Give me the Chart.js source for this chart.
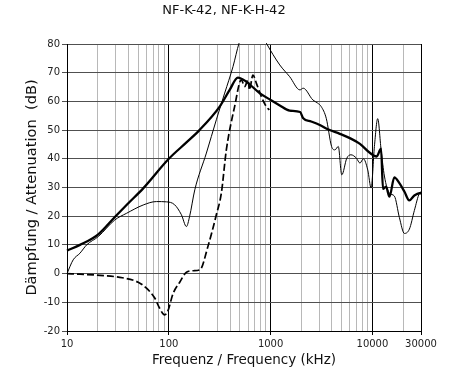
<!DOCTYPE html>
<html><head><meta charset="utf-8">
<script src="https://cdn.jsdelivr.net/npm/chart.js@4.4.1/dist/chart.umd.min.js"></script>
<style>html,body{margin:0;padding:0;background:#fff;overflow:hidden;}</style>
</head><body>
<canvas id="c" width="450" height="379"></canvas>
<script>
// ---- text ----
const chartTitle = "NF-K-42, NF-K-H-42";
const xAxisTitle = "Frequenz / Frequency (kHz)";
const yAxisTitle = "Dämpfung / Attenuation  (dB)";

// ---- ticks ----
const xGridValues = [10,20,30,40,50,60,70,80,90,100,200,300,400,500,600,700,800,900,1000,2000,3000,4000,5000,6000,7000,8000,9000,10000,20000,30000];
const xLabelValues = [10,100,1000,10000,30000];
const yTickValues = [-20,-10,0,10,20,30,40,50,60,70,80];

// ---- series: thick solid ----
const thickFreq = [10,13.4,20,30,40,56,100,150,200,316,396,477,576,780,1000,1230,1540,1950,2090,2500,3040,3600,4780,6000,7540,9480,11000,12150,12700,13600,14700,16400,18400,20600,23000,25800,28900,30000];
const thickDb   = [8,10,13.5,20,24.5,29.7,40,45.8,50,58.2,64,68.3,66.9,62.9,60.5,58.6,56.8,56.3,54.1,53,51.8,50.4,48.7,47.2,45.2,42,40.8,43.5,29.5,30.3,26.8,33.5,31.5,28.6,25.5,27.2,28,28];

// ---- series: thin solid ----
const thinFreq = [10,11.5,13.4,15.6,20.3,29.5,38.4,56,75.6,95,114,133,149,160,180,234,293,354,427,490,650,907,1230,1540,1940,2090,2600,2900,3140,3520,3970,4280,4620,5000,5600,6150,6970,7540,8150,9000,9710,10460,11270,12170,13110,14690,16440,18410,20600,23070,25820,28900,30000];
const thinDb   = [0,4.8,7.1,10,12.9,18.7,21,23.9,25.1,25,24,20.5,16.4,19.9,29.2,42,53.6,62.9,72.1,80.3,90,80.3,72.7,68.6,64,64.6,60.5,59.4,58.2,54.1,44.3,43.1,44.3,34.4,40.2,41.4,40.2,38.5,40,36.1,29.8,44.3,54,43.1,34,28,27,19.5,14,15.5,22,28,28.5];

// ---- series: dashed ----
const dashFreq = [10,13.4,21,33,50,60,73,81,91,98,110,128,149,175,202,242,293,328,367,443,515,557,600,620,670,725,810,907,970];
const dashDb   = [0,-0.2,-0.6,-1.3,-3,-5,-8.6,-12,-14.4,-13,-7,-3,0.5,1,1.3,9.4,20.5,28,43,58.2,67.5,65.2,67.5,64,69.2,66.3,61.7,58.2,57];

const pts = (fx, fy) => fx.map((f, i) => ({x: f, y: fy[i]}));

Chart.defaults.font.family = "'DejaVu Sans', Verdana, sans-serif";

const titlePlugin = {
  id: 'pageTitle',
  afterDraw(chart) {
    const ctx = chart.ctx;
    ctx.save();
    ctx.font = "13px 'DejaVu Sans', Verdana, sans-serif";
    ctx.fillStyle = '#111';
    ctx.textAlign = 'center';
    ctx.textBaseline = 'middle';
    ctx.fillText(chartTitle, 224, 10.5);
    ctx.restore();
  }
};

new Chart(document.getElementById('c'), {
  type: 'line',
  data: {
    datasets: [
      {data: pts(thinFreq, thinDb), borderColor: '#000', borderWidth: 1, pointRadius: 0, cubicInterpolationMode: 'monotone', clip: 1},
      {data: pts(dashFreq, dashDb), borderColor: '#000', borderWidth: 1.7, borderDash: [7, 3], pointRadius: 0, cubicInterpolationMode: 'monotone', clip: 1},
      {data: pts(thickFreq, thickDb), borderColor: '#000', borderWidth: 2.3, pointRadius: 0, cubicInterpolationMode: 'monotone', clip: 1}
    ]
  },
  plugins: [titlePlugin],
  options: {
    responsive: false,
    animation: false,
    devicePixelRatio: 1,
    layout: {padding: {left: 0, right: 29, top: 44, bottom: 0}},
    plugins: {
      legend: {display: false},
      tooltip: {enabled: false},
      title: {display: false}
    },
    scales: {
      x: {
        type: 'logarithmic', min: 10, max: 30000,
        afterBuildTicks: s => { s.ticks = xGridValues.map(v => ({value: v})); },
        afterFit: s => { s.height = 48; },
        ticks: {autoSkip: false, maxRotation: 0, minRotation: 0, padding: 3, color: '#222', font: {size: 10},
          callback: v => xLabelValues.includes(v) ? String(v) : ''},
        grid: {
          lineWidth: 1, tickLength: 4,
          color: c => (c.tick && [100,1000,10000,30000].includes(c.tick.value)) ? '#000' : '#b8b8b8',
          tickColor: c => (c.tick && xLabelValues.includes(c.tick.value)) ? '#000' : 'rgba(0,0,0,0)'
        },
        border: {color: '#000', width: 1},
        title: {display: true, text: xAxisTitle, color: '#111', font: {size: 13.5}, padding: {top: 0, bottom: 10}}
      },
      y: {
        min: -20, max: 80,
        afterBuildTicks: s => { s.ticks = yTickValues.map(v => ({value: v})); },
        afterFit: s => { s.width = 67; },
        ticks: {color: '#222', font: {size: 10}, padding: 2},
        grid: {color: '#505050', lineWidth: 1, tickLength: 5, tickColor: '#505050'},
        border: {color: '#000', width: 1},
        title: {display: true, text: yAxisTitle, color: '#111', font: {size: 14.6}, padding: {top: 23, bottom: 0}}
      }
    }
  }
});
</script>
</body></html>
